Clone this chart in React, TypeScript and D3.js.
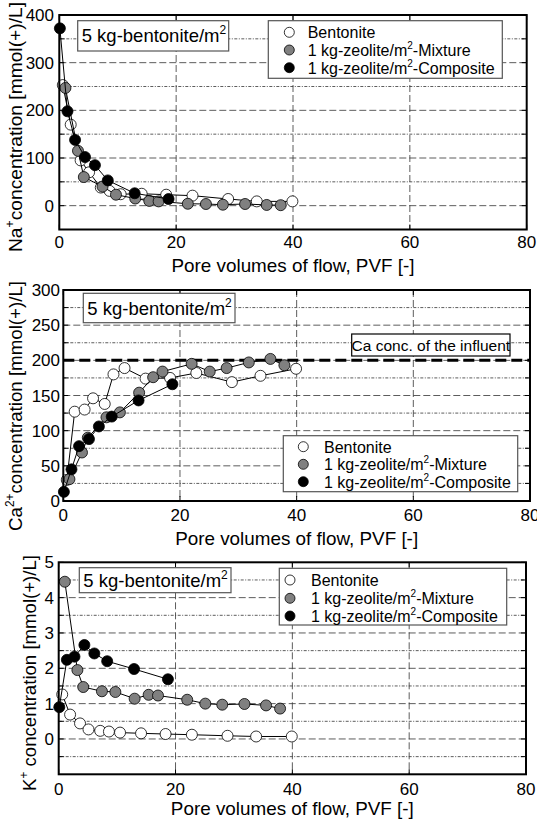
import React from "react";
import * as d3 from "d3";

// ---------- data ----------
const pvfBentonite = [0.6, 1.95, 3.65, 5.1, 7.1, 8.6, 10.5, 14.1, 18.3, 22.8, 28.9, 33.8, 39.9];
const pvfMixture = [1.05, 3.2, 4.2, 7.4, 9.7, 13.0, 15.4, 17.0, 22.0, 25.1, 28.0, 31.8, 35.5, 37.9];
const pvfComposite = [0.1, 1.4, 2.7, 4.4, 6.1, 8.3, 12.9, 18.7];

const naBentonite = [253, 170, 95, 70, 38, 31, 24, 25, 23, 21, 14, 9, 9];
const naMixture = [247, 115, 60, 40, 23, 15, 10, 9, 4, 3.5, 2, 3.5, 1.5, 1];
const naComposite = [372, 198, 138, 102, 85, 53, 26, 14];

const caBentonite = [30, 127, 130, 146, 138, 180, 189, 174, 175, 182, 169, 178, 188];
const caMixture = [31, 69, 90, 119, 126, 154, 176, 184, 195, 184, 189, 197, 202, 193];
const caComposite = [13, 45, 78, 88, 106, 120, 143, 166];
const caInfluent = 200;

const kBentonite = [1.26, 0.69, 0.44, 0.27, 0.23, 0.21, 0.18, 0.16, 0.14, 0.12, 0.09, 0.07, 0.07];
const kMixture = [4.45, 1.95, 1.47, 1.35, 1.33, 1.14, 1.25, 1.23, 1.11, 1.0, 0.97, 0.99, 0.95, 0.86];
const kComposite = [0.9, 2.24, 2.33, 2.66, 2.42, 2.2, 1.98, 1.69];

const xTicks = [0, 20, 40, 60, 80];
const naTicks = [0, 100, 200, 300, 400];
const naMinor = [50, 150, 250, 350];
const caTicks = [0, 50, 100, 150, 200, 250, 300];
const caMinor = [25, 75, 125, 175, 225, 275];
const kTicks = [0, 1, 2, 3, 4, 5];
const kMinor = [-0.5, 0.5, 1.5, 2.5, 3.5, 4.5];

const seriesNames = ["Bentonite", "1 kg-zeolite/m", "1 kg-zeolite/m"];
const seriesSuffix = ["", "-Mixture", "-Composite"];
const seriesFill = ["#ffffff", "#808080", "#000000"];

const FONT = "'Liberation Sans', Arial, sans-serif";

type PanelProps = {
  x0: number; x1: number; y0: number; y1: number;
  yDomain: [number, number];
  yTicks: number[]; yMinor: number[];
  data: number[][];
  ion: string; ionSup: string; ionGap: string;
  labelBox: [number, number, number, number];
  legend: { x: number; y: number; w: number; h: number; mx: number; tx: number; rows: number[] };
  tickLabelX: number; xTickBaseline: number; xTitleBaseline: number;
  yTitleX: number; yTitleY: number; yTitleLen: number;
  influent?: number;
  infBox?: [number, number, number, number];
};

function Panel(p: PanelProps) {
  const x = d3.scaleLinear().domain([0, 80]).range([p.x0, p.x1]);
  const y = d3.scaleLinear().domain(p.yDomain).range([p.y1, p.y0]);
  const pvfs = [pvfBentonite, pvfMixture, pvfComposite];
  const line = d3.line<[number, number]>().x((d) => x(d[0])).y((d) => y(d[1]));
  const majorInner = p.yTicks.filter((v) => y(v) > p.y0 + 0.5 && y(v) < p.y1 - 0.5);
  const tickLen = 5;
  const [lbx, lby, lbw, lbh] = p.labelBox;
  return (
    <g fontFamily={FONT}>
      <rect x={p.x0} y={p.y0} width={p.x1 - p.x0} height={p.y1 - p.y0} fill="#fff" />
      {/* grid */}
      {p.yMinor.map((v) => (
        <line key={"mi" + v} x1={p.x0} x2={p.x1} y1={y(v)} y2={y(v)} stroke="#333" strokeWidth={0.8} strokeDasharray="3,1.5,1,1.5" />
      ))}
      {majorInner.map((v) => (
        <line key={"ma" + v} x1={p.x0} x2={p.x1} y1={y(v)} y2={y(v)} stroke="#333" strokeWidth={0.8} strokeDasharray="7,3" />
      ))}
      {xTicks.slice(1, -1).map((v) => (
        <line key={"vx" + v} x1={x(v)} x2={x(v)} y1={p.y0} y2={p.y1} stroke="#333" strokeWidth={0.8} strokeDasharray="7,3" />
      ))}
      {/* ticks */}
      {[...p.yTicks, ...p.yMinor].map((v) => (
        <g key={"t" + v}>
          <line x1={p.x0} x2={p.x0 + tickLen} y1={y(v)} y2={y(v)} stroke="#000" strokeWidth={1} />
          <line x1={p.x1} x2={p.x1 - tickLen} y1={y(v)} y2={y(v)} stroke="#000" strokeWidth={1} />
        </g>
      ))}
      {xTicks.map((v) => (
        <g key={"xt" + v}>
          <line x1={x(v)} x2={x(v)} y1={p.y0} y2={p.y0 + tickLen} stroke="#000" strokeWidth={1} />
          <line x1={x(v)} x2={x(v)} y1={p.y1} y2={p.y1 - tickLen} stroke="#000" strokeWidth={1} />
        </g>
      ))}
      {/* influent line */}
      {p.influent !== undefined && (
        <line x1={p.x0} x2={p.x1} y1={y(p.influent)} y2={y(p.influent)} stroke="#000" strokeWidth={3} strokeDasharray="11,5" />
      )}
      {p.infBox && (
        <g>
          <rect x={p.infBox[0]} y={p.infBox[1]} width={p.infBox[2]} height={p.infBox[3]} fill="#fff" stroke="#000" strokeWidth={1.2} />
          <text x={p.infBox[0] + p.infBox[2] / 2} y={p.infBox[1] + p.infBox[3] / 2 + 5.5} fontSize={15.5} textAnchor="middle">Ca conc. of the influent</text>
        </g>
      )}
      {/* series */}
      {[0, 1, 2].map((s) => {
        const pts: [number, number][] = pvfs[s].map((v, i) => [v, p.data[s][i]]);
        return (
          <g key={"s" + s}>
            <path d={line(pts) || ""} fill="none" stroke="#000" strokeWidth={1} />
            {pts.map((d, i) => (
              <circle key={i} cx={x(d[0])} cy={y(d[1])} r={5.5} fill={seriesFill[s]} stroke="#000" strokeWidth={0.8} />
            ))}
          </g>
        );
      })}
      {/* frame */}
      <rect x={p.x0} y={p.y0} width={p.x1 - p.x0} height={p.y1 - p.y0} fill="none" stroke="#000" strokeWidth={2} />
      {/* label box */}
      <rect x={lbx} y={lby} width={lbw} height={lbh} fill="#fff" stroke="#555" strokeWidth={1.2} />
      <text x={lbx + 4} y={lby + lbh / 2 + 6.5} fontSize={18.5}>
        5 kg-bentonite/m<tspan fontSize={12} dy={-8}>2</tspan>
      </text>
      {/* legend */}
      <rect x={p.legend.x} y={p.legend.y} width={p.legend.w} height={p.legend.h} fill="#fff" stroke="#555" strokeWidth={1.2} />
      {[0, 1, 2].map((s) => (
        <g key={"lg" + s}>
          <circle cx={p.legend.mx} cy={p.legend.rows[s]} r={5} fill={seriesFill[s]} stroke="#000" strokeWidth={0.8} />
          <text x={p.legend.tx} y={p.legend.rows[s] + 6} fontSize={16}>
            {seriesNames[s]}
            {s > 0 && <tspan fontSize={10} dy={-7}>2</tspan>}
            {s > 0 && <tspan dy={7}>{seriesSuffix[s]}</tspan>}
          </text>
        </g>
      ))}
      {/* x tick labels */}
      {xTicks.map((v) => (
        <text key={"xl" + v} x={x(v)} y={p.xTickBaseline} fontSize={17} textAnchor="middle">{v}</text>
      ))}
      {/* y tick labels */}
      {p.yTicks.map((v) => (
        <text key={"yl" + v} x={p.tickLabelX} y={y(v) + 6} fontSize={17} textAnchor="end">{v}</text>
      ))}
      <text x={(p.x0 + p.x1) / 2} y={p.xTitleBaseline} fontSize={19} textAnchor="middle" textLength={243} lengthAdjust="spacingAndGlyphs">Pore volumes of flow, PVF [-]</text>
      <text transform={`translate(${p.yTitleX},${p.yTitleY}) rotate(-90)`} fontSize={19} textAnchor="middle" textLength={p.yTitleLen} lengthAdjust="spacingAndGlyphs">
        {p.ion}<tspan fontSize={12} dy={-8}>{p.ionSup}</tspan><tspan dy={8}>{p.ionGap}concentration [mmol(+)/L]</tspan>
      </text>
    </g>
  );
}

export default function App() {
  return (
    <svg width={537} height={820} style={{ position: "absolute", left: 0, top: 0, background: "#fff" }}>
      <rect width={537} height={820} fill="#fff" />
      <Panel
        x0={59.3} x1={526.7} y0={15} y1={229.5}
        yDomain={[-50, 400]} yTicks={naTicks} yMinor={naMinor}
        data={[naBentonite, naMixture, naComposite]}
        ion="Na" ionSup="+" ionGap=""
        labelBox={[77.7, 20.7, 151, 30.3]}
        legend={{ x: 268.3, y: 20.7, w: 234, h: 57.6, mx: 289.3, tx: 307.7, rows: [32.3, 50, 67.7] }}
        tickLabelX={54} xTickBaseline={248} xTitleBaseline={272}
        yTitleX={22} yTitleY={127} yTitleLen={250}
      />
      <Panel
        x0={63.3} x1={530} y0={290} y1={501}
        yDomain={[0, 300]} yTicks={caTicks} yMinor={caMinor}
        data={[caBentonite, caMixture, caComposite]}
        ion="Ca" ionSup="2+" ionGap=""
        labelBox={[83.3, 293.3, 151.7, 29.4]}
        legend={{ x: 283.3, y: 435.7, w: 234.4, h: 56, mx: 303.3, tx: 324, rows: [446.7, 464.3, 481.7] }}
        tickLabelX={60} xTickBaseline={521} xTitleBaseline={545}
        yTitleX={22} yTitleY={406} yTitleLen={250}
        influent={caInfluent}
        infBox={[351.7, 334, 158.3, 22]}
      />
      <Panel
        x0={58.7} x1={526} y0={562.3} y1={774.3}
        yDomain={[-1, 5]} yTicks={kTicks} yMinor={kMinor}
        data={[kBentonite, kMixture, kComposite]}
        ion="K" ionSup="+" ionGap=" "
        labelBox={[79.3, 567.7, 151.7, 25]}
        legend={{ x: 279.3, y: 568.3, w: 227.4, h: 56.7, mx: 290, tx: 311, rows: [580, 598.3, 616] }}
        tickLabelX={54} xTickBaseline={795} xTitleBaseline={815}
        yTitleX={36} yTitleY={673} yTitleLen={236}
      />
    </svg>
  );
}
